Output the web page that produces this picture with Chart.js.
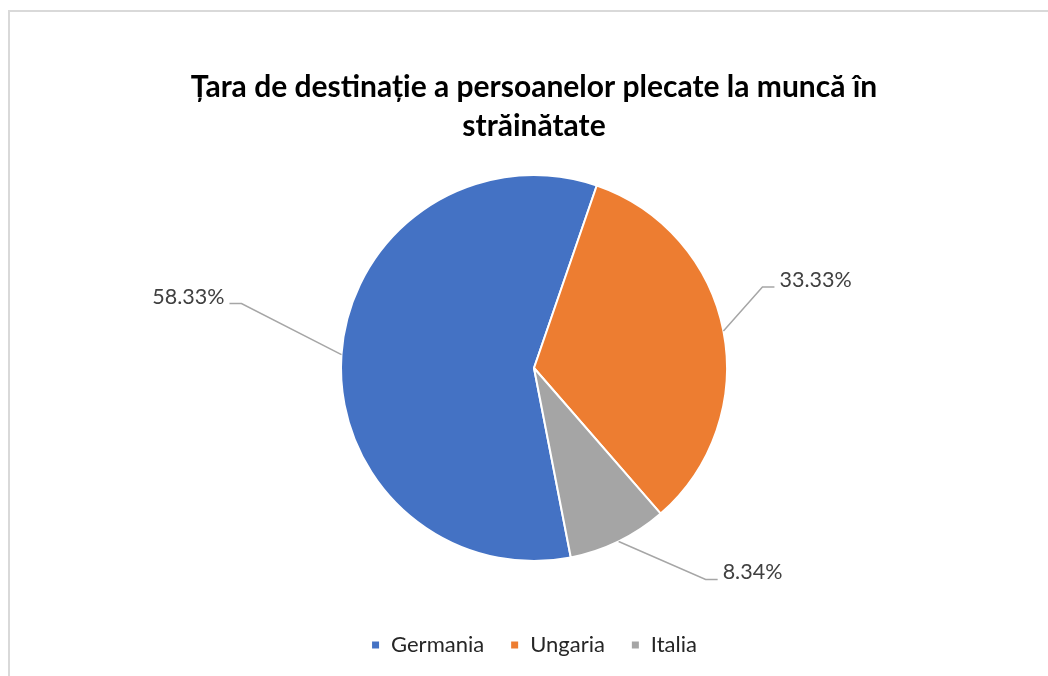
<!DOCTYPE html>
<html lang="ro">
<head>
<meta charset="utf-8">
<title>Țara de destinație</title>
<script src="https://cdn.jsdelivr.net/npm/chart.js@4.4.1/dist/chart.umd.min.js"></script>
<style>
    html, body { margin: 0; padding: 0; background: #fff; }
    #wrap { position: relative; width: 1048px; height: 676px; }
</style>
</head>
<body>
<div id="wrap">
    <canvas id="pie" width="1048" height="676"></canvas>
</div>
<script>
const countries = ['Germania', 'Ungaria', 'Italia'];
const shares = [58.33, 33.33, 8.34];
const shareLabels = ['58.33%', '33.33%', '8.34%'];
const titleLines = ['Țara de destinație a persoanelor plecate la muncă în', 'străinătate'];

const sliceColors = ['#4472C4', '#ED7D31', '#A5A5A5'];
// where each label's elbow sits relative to the slice edge
const labelOffsets = [[-100, -51], [39, -44], [87, 38]];

// light frame round the chart, like the Excel chart area
const framePlugin = {
    id: 'frame',
    beforeDraw(chart) {
        const ctx = chart.ctx;
        ctx.save();
        ctx.strokeStyle = '#D9D9D9';
        ctx.lineWidth = 2;
        ctx.beginPath();
        ctx.moveTo(9, chart.height);
        ctx.lineTo(9, 11);
        ctx.lineTo(chart.width, 11);
        ctx.stroke();
        ctx.restore();
    }
};

// percentage labels with leader lines
const leaderLabels = {
    id: 'leaderLabels',
    afterDatasetsDraw(chart) {
        const ctx = chart.ctx;
        const arcs = chart.getDatasetMeta(0).data;
        ctx.save();
        ctx.font = '21.5px Lato';
        ctx.textBaseline = 'alphabetic';
        arcs.forEach((arc, i) => {
            const mid = (arc.startAngle + arc.endAngle) / 2;
            const ex = arc.x + arc.outerRadius * Math.cos(mid);
            const ey = arc.y + arc.outerRadius * Math.sin(mid);
            const bx = ex + labelOffsets[i][0];
            const by = ey + labelOffsets[i][1];
            const dir = labelOffsets[i][0] < 0 ? -1 : 1;
            const tx = bx + dir * 12;

            ctx.strokeStyle = '#A6A6A6';
            ctx.lineWidth = 1.5;
            ctx.beginPath();
            ctx.moveTo(ex, ey);
            ctx.lineTo(bx, by);
            ctx.lineTo(tx, by);
            ctx.stroke();

            ctx.fillStyle = '#404040';
            ctx.textAlign = dir < 0 ? 'right' : 'left';
            ctx.fillText(shareLabels[i], tx + dir * 5, by);
        });
        ctx.restore();
    }
};

Chart.defaults.font.family = 'Lato';

new Chart(document.getElementById('pie'), {
    type: 'pie',
    data: {
        labels: countries,
        datasets: [{
            data: shares,
            backgroundColor: sliceColors,
            borderColor: '#FFFFFF',
            borderWidth: 2,
            hoverOffset: 0
        }]
    },
    options: {
        responsive: false,
        animation: false,
        rotation: 169,
        layout: {
            padding: { top: 10, left: 20, right: 0, bottom: 10 }
        },
        plugins: {
            title: {
                display: true,
                text: titleLines,
                color: '#000000',
                font: { size: 30, weight: 'bold', lineHeight: '39px' },
                padding: { top: 58, bottom: 28 }
            },
            legend: {
                position: 'bottom',
                // empty legend title only pushes the items down, away from the pie
                title: {
                    display: true,
                    text: ' ',
                    font: { size: 1, lineHeight: 1 },
                    padding: { top: 45, bottom: 0 }
                },
                labels: {
                    boxWidth: 9,
                    boxHeight: 9,
                    padding: 26,
                    color: '#262626',
                    font: { size: 22 }
                }
            },
            tooltip: { enabled: false }
        }
    },
    plugins: [framePlugin, leaderLabels]
});
</script>
</body>
</html>
